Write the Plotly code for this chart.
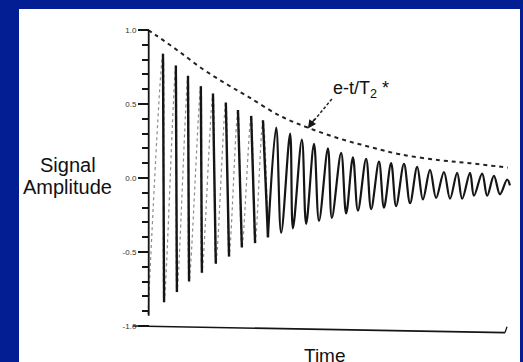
import plotly.graph_objects as go

# ---------------- data ----------------
# time in arbitrary units: 0 = start of the signal, 100 = end of the time axis
peak_t = [4.2, 7.8, 11.2, 14.8, 18.2, 21.8, 25.2, 28.9, 32.2, 35.9, 39.8, 43.1, 46.5, 50.4,
          54.1, 57.4, 61.1, 64.7, 68.1, 71.7, 75.4, 79.0, 82.9, 86.6, 90.2, 93.6, 96.9, 100.6]
peak_v = [0.84, 0.76, 0.69, 0.62, 0.57, 0.51, 0.46, 0.42, 0.39, 0.34, 0.30, 0.26, 0.23, 0.20,
          0.17, 0.14, 0.13, 0.11, 0.10, 0.095, 0.075, 0.055, 0.04, 0.035, 0.035, 0.03, 0.015, -0.01]
trough_t = [0.0, 4.5, 8.1, 11.5, 15.1, 19.0, 22.7, 26.3, 30.0, 33.6, 37.3, 40.6, 44.3, 47.9,
            51.5, 55.5, 58.8, 62.5, 66.1, 69.5, 73.4, 77.0, 80.7, 84.6, 88.0, 91.3, 95.0, 98.6]
trough_v = [-0.92, -0.84, -0.77, -0.70, -0.64, -0.58, -0.53, -0.47, -0.44, -0.40, -0.37, -0.34,
            -0.31, -0.29, -0.27, -0.24, -0.22, -0.21, -0.20, -0.19, -0.17, -0.145, -0.135, -0.14,
            -0.14, -0.12, -0.12, -0.11]
end_t = 101.4
end_v = -0.05

# dashed envelope e^(-t/T2*)
env_t = [0.0, 2.5, 8.4, 15.1, 21.6, 28.0, 37.0, 44.8, 53.8, 62.2, 70.6, 81.8, 90.2, 100.8]
env_v = [1.00, 0.96, 0.86, 0.74, 0.64, 0.55, 0.42, 0.34, 0.265, 0.21, 0.16, 0.12, 0.10, 0.07]

ytick_vals = [-1.0, -0.5, 0.0, 0.5, 1.0]
ytick_text = ["-1.0", "-0.5", "0.0", "0.5", "1.0"]

y_label_1 = "Signal"
y_label_2 = "Amplitude"
x_label = "Time"
env_label = "e-t/T<sub>2</sub> *"

# ---------------- geometry helpers ----------------
W, H = 523, 362
ML, MR, MT, MB = 142, 12, 25, 24
PW, PH = W - ML - MR, H - MT - MB
PX_PER_T = 3.57
X0_PX = 148  # pixel of t = 0
xr = [-(X0_PX - ML) / PX_PER_T, (W - MR - X0_PX) / PX_PER_T]
yr = [1.0 + (30 - MT) / 148 - PH / 148, 1.0 + (30 - MT) / 148]


def px(p):
    return (p - ML) / PW


def py(q):
    return (H - MB - q) / PH


FAINT_N = 9  # first cycles where the up-strokes are faint in the print

fig = go.Figure()

# faint, dotted trace through the left part (the up-strokes are pale in the print)
lx, ly = [], []
for i in range(FAINT_N):
    lx += [trough_t[i], peak_t[i]]
    ly += [trough_v[i], peak_v[i]]
lx.append(trough_t[FAINT_N])
ly.append(trough_v[FAINT_N])
fig.add_trace(go.Scatter(x=lx, y=ly, mode="lines",
                         line=dict(color="#8c8c8c", width=1.2, dash="dot", shape="spline"),
                         hoverinfo="skip", showlegend=False))

# dark down-strokes (left part)
dx, dy = [], []
for i in range(FAINT_N):
    dx += [peak_t[i], trough_t[i + 1], None]
    dy += [peak_v[i], trough_v[i + 1], None]
fig.add_trace(go.Scatter(x=dx, y=dy, mode="lines",
                         line=dict(color="#151515", width=2.4),
                         hoverinfo="skip", showlegend=False))

# rest of the oscillation
sx, sy = [], []
for i in range(FAINT_N, len(peak_t)):
    sx += [trough_t[i], peak_t[i]]
    sy += [trough_v[i], peak_v[i]]
sx.append(end_t)
sy.append(end_v)
fig.add_trace(go.Scatter(x=sx, y=sy, mode="lines",
                         line=dict(color="#151515", width=2.2, shape="spline", smoothing=1.0),
                         hoverinfo="skip", showlegend=False))

# envelope
fig.add_trace(go.Scatter(x=env_t, y=env_v, mode="lines",
                         line=dict(color="#222", width=2.0, dash="4px,4px", shape="spline"),
                         hoverinfo="skip", showlegend=False))

# arrow shaft (dashed) from the label to the envelope
fig.add_trace(go.Scatter(x=[51.5, 46.4], y=[0.534, 0.385], mode="lines",
                         line=dict(color="#222", width=1.5, dash="3px,2px"),
                         hoverinfo="skip", showlegend=False))

shapes = [
    # white panel on the blue slide
    dict(type="rect", xref="paper", yref="paper", x0=px(19), x1=px(520), y0=py(372), y1=py(9),
         fillcolor="white", line=dict(width=0), layer="below"),
    # y axis line
    dict(type="line", xref="x", yref="y", x0=0.2, x1=0.2, y0=-0.93, y1=1.0,
         line=dict(color="#151515", width=1.8)),
    # x axis line (slightly skewed in the scan)
    dict(type="line", xref="paper", yref="y", x0=px(133), x1=px(505), y0=-1.0, y1=-1.045,
         line=dict(color="#151515", width=1.6)),
    dict(type="line", xref="paper", yref="y", x0=px(505), x1=px(507), y0=-1.045, y1=-1.005,
         line=dict(color="#151515", width=1.3)),
]

font = "Liberation Sans, Arial, sans-serif"
annotations = [
    dict(xref="paper", yref="paper", x=px(68), y=py(165), text=y_label_1, showarrow=False,
         xanchor="center", yanchor="middle", font=dict(family=font, size=20, color="#111")),
    dict(xref="paper", yref="paper", x=px(67), y=py(187), text=y_label_2, showarrow=False,
         xanchor="center", yanchor="middle", font=dict(family=font, size=20, color="#111")),
    dict(xref="paper", yref="paper", x=px(325), y=py(355), text=x_label, showarrow=False,
         xanchor="center", yanchor="middle", font=dict(family=font, size=19, color="#111")),
    dict(xref="paper", yref="paper", x=px(331), y=py(89), text=env_label, showarrow=False,
         xanchor="left", yanchor="middle", font=dict(family=font, size=18, color="#111")),
    # arrow head at the envelope
    dict(xref="x", yref="y", x=44.8, y=0.335, axref="x", ayref="y", ax=47.0, ay=0.41,
         text="", showarrow=True, arrowhead=2, arrowsize=1.1, arrowwidth=1.5,
         arrowcolor="#151515"),
]

fig.update_layout(
    width=W, height=H,
    margin=dict(l=ML, r=MR, t=MT, b=MB, autoexpand=False),
    paper_bgcolor="#031d92",
    plot_bgcolor="rgba(0,0,0,0)",
    showlegend=False,
    shapes=shapes,
    annotations=annotations,
    xaxis=dict(range=xr, visible=False, fixedrange=True, automargin=False),
    yaxis=dict(range=yr, anchor="free", position=px(X0_PX + 1), showline=False,
               automargin=False,
               showgrid=False, zeroline=False, tickmode="array",
               tickvals=ytick_vals, ticktext=ytick_text, ticks="outside", ticklen=11,
               tickwidth=1.6, tickcolor="#151515",
               tickfont=dict(family=font, size=8, color="#333"),
               minor=dict(dtick=0.1, ticks="outside", ticklen=7, tickwidth=1.5,
                          tickcolor="#151515", showgrid=False),
               fixedrange=True),
)

fig.write_html("out.html", config={"displayModeBar": False},
               post_script="document.body.style.margin='0';document.body.style.overflow='hidden';")
